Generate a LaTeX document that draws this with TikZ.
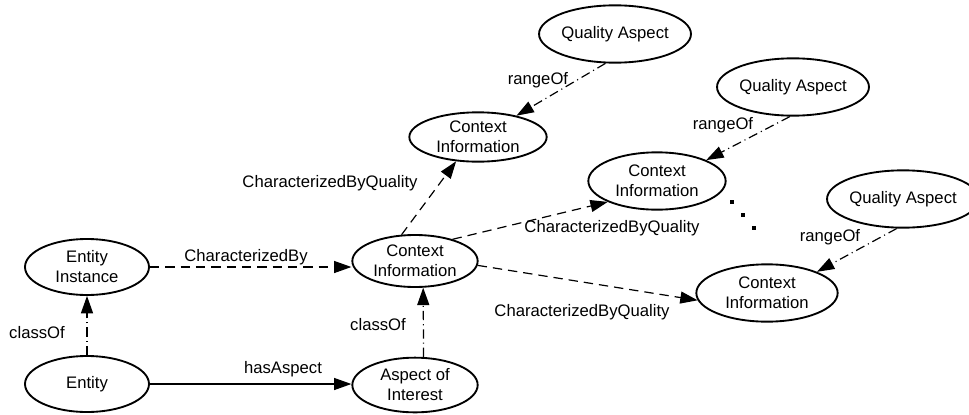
\documentclass[tikz,border=0pt]{standalone}
\usepackage{fontspec}
\setmainfont{Liberation Sans}
\usetikzlibrary{shapes.geometric,arrows.meta}

\begin{document}
\begin{tikzpicture}[x=0.75pt, y=-0.75pt,
    concept/.style={draw, ellipse, line width=1.4pt, inner sep=0pt, align=center,
        font=\fontsize{12.5}{15}\selectfont},
    lbl/.style={font=\fontsize{12.5}{15}\selectfont},
    rel/.style={line width=0.9pt, -{Triangle[length=13pt, width=9pt]}},
    dashrel/.style={rel, dash pattern=on 7pt off 4.5pt},
    dotrel/.style={rel, dash pattern=on 7pt off 3pt on 0.8pt off 3pt}]
    \useasboundingbox (0,0) rectangle (969,414);

    \node[concept, minimum width=93pt, minimum height=42pt] (inst) at (87,267) {Entity\\Instance};
    \node[concept, minimum width=93pt, minimum height=42pt] (entity) at (87,384) {Entity};
    \node[concept, minimum width=94pt, minimum height=41pt] (aspect) at (415,385) {Aspect of\\Interest};
    \node[concept, minimum width=94pt, minimum height=39pt] (cimid) at (415,261) {Context\\Information};
    \node[concept, minimum width=103pt, minimum height=37pt] (citop) at (478,137) {Context\\Information};
    \node[concept, minimum width=103pt, minimum height=43pt] (cimr) at (657,181) {Context\\Information};
    \node[concept, minimum width=106pt, minimum height=43pt] (cibr) at (767,293) {Context\\Information};
    \node[concept, minimum width=98pt, minimum height=43pt] (qatop) at (615,34) {Quality Aspect};
    \node[concept, minimum width=112pt, minimum height=43pt] (qamid) at (793,87) {Quality Aspect};
    \node[concept, minimum width=99pt, minimum height=43pt] (qaright) at (903,199) {Quality Aspect};

    \draw[dashrel] (inst.east) -- (inst.east -| cimid.west);
    \draw[rel] (entity.east) -- (entity.east -| aspect.west);
    \draw[dotrel] (entity.north) -- (inst.south);
    \draw[dotrel] (aspect.73) -- (cimid.287);
    \draw[dashrel] (cimid.117) -- (citop.228);
    \draw[dashrel] (cimid.30) -- (cimr.203);
    \draw[dashrel] (cimid.356) -- (cibr.186);
    \draw[dotrel] (qatop.252) -- (citop.29);
    \draw[dotrel] (qamid.264) -- (cimr.23);
    \draw[dotrel] (qaright.258) -- (cibr.23);

    \node[lbl] (lcb) at (246,257) {CharacterizedBy};
    \node[lbl] (lha) at (283,369) {hasAspect};
    \node[lbl] (lco) at (37,333) {classOf};
    \node[lbl] (lcoa) at (378,325) {classOf};
    \node[lbl] (lcq) at (330,183) {CharacterizedByQuality};
    \node[lbl] (lcqm) at (612,228) {CharacterizedByQuality};
    \node[lbl] (lcqb) at (582,312) {CharacterizedByQuality};
    \node[lbl] (lrt) at (538,80) {rangeOf};
    \node[lbl] (lrm) at (723,125) {rangeOf};
    \node[lbl] (lrr) at (830,237) {rangeOf};

    \foreach \x/\y in {732/202, 743/215, 754/228}
        \fill (\x-2.2,\y-2.2) rectangle (\x+2.2,\y+2.2);
\end{tikzpicture}
\end{document}
